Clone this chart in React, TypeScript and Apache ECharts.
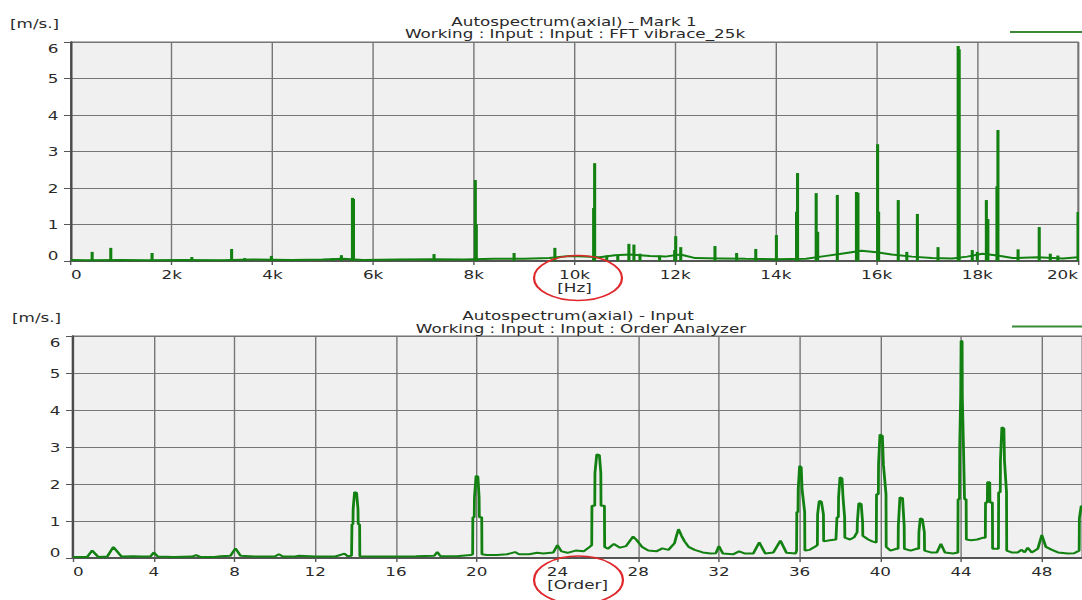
import React, { useEffect, useRef } from "react";
import * as echarts from "echarts";

// Upper panel: autospectrum over frequency (Hz)
const hzFloor: [number, number][] = [
  [0, 0.03], [300, 0.02], [1000, 0.03], [1500, 0.02], [2200, 0.03], [3000, 0.02],
  [3600, 0.04], [4400, 0.03], [5000, 0.04], [5400, 0.06], [5800, 0.03], [6500, 0.04],
  [7200, 0.05], [7800, 0.04], [8400, 0.06], [9000, 0.06], [9500, 0.08], [9900, 0.14],
  [10200, 0.12], [10500, 0.1], [10800, 0.16], [11100, 0.18], [11500, 0.14], [11800, 0.12],
  [12100, 0.18], [12400, 0.08], [12900, 0.07], [13400, 0.06], [14000, 0.05], [14600, 0.06],
  [15000, 0.14], [15300, 0.2], [15700, 0.28], [16000, 0.24], [16300, 0.18], [16700, 0.12],
  [17100, 0.08], [17500, 0.07], [17800, 0.12], [18100, 0.2], [18400, 0.15], [18700, 0.08],
  [19200, 0.1], [19700, 0.07], [20000, 0.1],
];

const hzPeaks: [number, number][] = [
  [420, 0.25], [790, 0.36], [1610, 0.22], [2400, 0.11], [3190, 0.33], [3450, 0.08],
  [3980, 0.14], [5200, 0.08], [5370, 0.16], [5590, 1.73], [5610, 1.7], [7210, 0.19],
  [8030, 2.22], [8050, 1.0], [8800, 0.22], [9610, 0.36], [10380, 1.45], [10400, 2.68],
  [10640, 0.15], [10860, 0.15], [11080, 0.47], [11180, 0.45], [11300, 0.2], [11690, 0.15],
  [11990, 0.3], [12010, 0.68], [12110, 0.38], [12790, 0.41], [13220, 0.22], [13600, 0.33],
  [14010, 0.71], [14410, 1.35], [14430, 2.41], [14800, 1.86], [14830, 0.8], [15220, 1.81],
  [15600, 1.89], [15630, 1.87], [16020, 3.2], [16040, 1.35], [16430, 1.67], [16600, 0.25],
  [16810, 1.29], [17220, 0.38], [17620, 5.89], [17640, 5.8], [17900, 0.3], [18000, 0.25],
  [18180, 1.67], [18210, 1.15], [18390, 2.05], [18410, 3.59], [18810, 0.32], [19230, 0.93],
  [19450, 0.2], [19600, 0.15], [20000, 1.34],
];

// Lower panel: order spectrum
const orderSpectrum: [number, number][] = [
  [0, 0.03], [0.7, 0.03], [0.95, 0.2], [1.25, 0.03], [1.7, 0.04], [2.0, 0.3], [2.4, 0.04],
  [3.0, 0.05], [3.4, 0.04], [3.85, 0.05], [4.0, 0.15], [4.2, 0.04], [5.0, 0.03], [5.9, 0.04],
  [6.1, 0.08], [6.3, 0.03], [7.0, 0.03], [7.3, 0.05], [7.8, 0.06], [8.05, 0.26], [8.3, 0.06],
  [9.0, 0.04], [10.0, 0.04], [10.2, 0.1], [10.4, 0.04], [11.0, 0.04], [11.2, 0.06], [12.0, 0.04],
  [13.0, 0.04], [13.45, 0.12], [13.6, 0.05], [13.8, 0.06], [13.82, 0.91], [13.87, 0.91],
  [13.88, 1.32], [13.95, 1.78], [14.05, 1.76], [14.12, 1.32], [14.13, 0.91], [14.2, 0.91],
  [14.21, 0.05], [15.0, 0.04], [16.0, 0.04], [17.0, 0.05], [17.9, 0.06], [18.05, 0.16],
  [18.2, 0.05], [19.0, 0.05], [19.7, 0.08], [19.8, 0.1], [19.81, 1.1], [19.88, 1.1],
  [19.89, 1.64], [19.97, 2.22], [20.06, 2.2], [20.12, 1.64], [20.13, 1.1], [20.25, 1.1],
  [20.26, 0.1], [20.5, 0.08], [21.0, 0.08], [21.5, 0.1], [21.9, 0.16], [22.1, 0.1], [22.6, 0.1],
  [23.0, 0.14], [23.3, 0.12], [23.8, 0.15], [24.0, 0.35], [24.2, 0.18], [24.5, 0.14],
  [24.9, 0.2], [25.3, 0.18], [25.6, 0.3], [25.7, 0.35], [25.71, 1.41], [25.85, 1.41],
  [25.86, 2.3], [25.95, 2.8], [26.08, 2.78], [26.15, 2.3], [26.16, 1.41], [26.33, 1.41],
  [26.34, 0.3], [26.5, 0.25], [26.8, 0.38], [27.1, 0.28], [27.4, 0.32], [27.75, 0.58],
  [27.9, 0.5], [28.2, 0.3], [28.5, 0.2], [28.9, 0.18], [29.2, 0.26], [29.5, 0.22], [29.8, 0.4],
  [29.9, 0.6], [30.0, 0.78], [30.15, 0.6], [30.3, 0.45], [30.5, 0.3], [30.8, 0.22],
  [31.2, 0.15], [31.6, 0.12], [31.85, 0.13], [32.0, 0.32], [32.2, 0.12], [32.7, 0.1],
  [33.0, 0.18], [33.3, 0.12], [33.7, 0.12], [34.0, 0.42], [34.3, 0.12], [34.7, 0.15],
  [35.05, 0.47], [35.35, 0.14], [35.8, 0.12], [35.85, 0.2], [35.86, 1.24], [35.92, 1.24],
  [35.93, 1.86], [36.0, 2.49], [36.08, 2.45], [36.12, 1.86], [36.25, 1.24], [36.26, 0.2],
  [36.5, 0.22], [36.8, 0.32], [36.88, 0.35], [36.89, 1.18], [36.97, 1.54], [37.08, 1.52],
  [37.18, 1.18], [37.19, 0.45], [37.5, 0.48], [37.8, 0.5], [37.84, 0.5], [37.85, 1.1],
  [37.92, 1.1], [37.93, 1.64], [38.0, 2.18], [38.1, 2.15], [38.15, 1.64], [38.23, 1.1],
  [38.24, 0.55], [38.5, 0.5], [38.7, 0.56], [38.85, 0.7], [38.86, 0.97], [38.93, 1.48],
  [39.05, 1.46], [39.12, 0.97], [39.13, 0.6], [39.4, 0.5], [39.6, 0.45], [39.8, 0.42],
  [39.81, 1.72], [39.9, 1.72], [39.91, 2.53], [39.98, 3.34], [40.1, 3.3], [40.15, 2.53],
  [40.28, 1.72], [40.29, 0.3], [40.5, 0.2], [40.8, 0.25], [40.88, 0.25], [40.89, 0.87],
  [40.97, 1.64], [41.1, 1.62], [41.18, 0.87], [41.19, 0.25], [41.5, 0.2], [41.8, 0.25],
  [41.9, 0.25], [41.91, 0.7], [41.98, 1.07], [42.08, 1.05], [42.18, 0.7], [42.19, 0.2],
  [42.5, 0.15], [42.8, 0.15], [43.0, 0.38], [43.2, 0.15], [43.6, 0.12], [43.84, 0.15],
  [43.85, 1.59], [43.92, 1.59], [43.93, 2.94], [43.97, 2.94], [43.98, 4.38], [44.0, 5.87],
  [44.05, 5.85], [44.06, 4.38], [44.12, 2.94], [44.16, 2.94], [44.17, 1.59], [44.25, 1.59],
  [44.26, 0.5], [44.5, 0.48], [44.8, 0.5], [45.1, 0.55], [45.2, 0.55], [45.21, 1.5],
  [45.3, 1.5], [45.31, 2.05], [45.42, 2.05], [45.43, 1.5], [45.55, 1.5], [45.56, 0.25],
  [45.85, 0.25], [45.86, 1.78], [45.94, 1.78], [45.95, 2.62], [46.02, 3.53], [46.12, 3.5],
  [46.15, 2.62], [46.25, 1.78], [46.26, 0.2], [46.5, 0.15], [46.8, 0.15], [47.0, 0.22],
  [47.15, 0.15], [47.3, 0.28], [47.5, 0.15], [47.8, 0.25], [48.0, 0.62], [48.2, 0.3],
  [48.5, 0.22], [48.8, 0.15], [49.3, 0.12], [49.6, 0.13], [49.85, 0.2], [49.86, 1.07],
  [49.95, 1.4], [50, 1.4],
];

const ampTicks = { min: 0, max: 6, interval: 1 };
const hzRange = { min: 0, max: 20000, interval: 2000 };
const orderRange = { min: 0, max: 50, interval: 4 };

const topTitle = "Autospectrum(axial) - Mark 1";
const topSubtitle = "Working : Input : Input : FFT vibrace_25k";
const bottomTitle = "Autospectrum(axial) - Input";
const bottomSubtitle = "Working : Input : Input : Order Analyzer";
const unitLabel = "[m/s.]";

// The drawing is laid out on a narrower canvas and stretched horizontally.
const S = 1.4;
const W = 1082;
const H = 600;
const IW = W / S;
const hx = (v: number) => v / S;

const FONT = "DejaVu Sans";
const GREEN = "#128112";
const textStyle = { color: "#2a2a2a", fontFamily: FONT, fontSize: 12 };

function xAxisBase(range: { min: number; max: number; interval: number }, grid: number, name: string, fmt: (v: number) => string, hideMax: boolean) {
  return {
    type: "value",
    gridIndex: grid,
    ...range,
    name,
    nameLocation: "middle",
    nameGap: 20,
    nameTextStyle: { ...textStyle },
    axisLine: { show: true, onZero: false, lineStyle: { color: "#555", width: 2 } },
    axisTick: { show: true, length: 4, lineStyle: { color: "#555" } },
    axisLabel: {
      ...textStyle,
      margin: 7,
      formatter: fmt,
      alignMinLabel: "left",
      alignMaxLabel: "right",
      showMaxLabel: !hideMax,
    },
    splitLine: { show: true, lineStyle: { color: "#767676", width: 1 } },
  };
}

function yAxisBase(grid: number) {
  return {
    type: "value",
    gridIndex: grid,
    ...ampTicks,
    axisLine: { show: true, onZero: false, lineStyle: { color: "#4a4a4a", width: 1.6 } },
    axisTick: { show: true, length: 5, lineStyle: { color: "#555" } },
    axisLabel: {
      ...textStyle,
      margin: 9,
      verticalAlignMinLabel: "bottom",
      verticalAlignMaxLabel: "top",
    },
    splitLine: { show: true, lineStyle: { color: "#767676", width: 1 } },
  };
}

export default function App() {
  const ref = useRef<HTMLDivElement>(null);

  useEffect(() => {
    if (!ref.current) return;
    const chart = echarts.init(ref.current, null, { renderer: "svg" });

    const txt = (x: number, y: number, text: string, align: string = "center") => ({
      type: "text",
      x: hx(x),
      y,
      z: 50,
      style: { text, ...textStyle, fill: "#2a2a2a", align, verticalAlign: "middle" },
    });

    chart.setOption({
      animation: false,
      grid: [
        {
          left: hx(71),
          right: IW - hx(1080),
          top: 42,
          height: 219,
          show: true,
          backgroundColor: "#f0f0f0",
          borderColor: "#6e6e6e",
          borderWidth: 1,
        },
        {
          left: hx(73),
          right: 0,
          top: 336,
          height: 222,
          show: true,
          backgroundColor: "#f0f0f0",
          borderColor: "#6e6e6e",
          borderWidth: 1,
        },
      ],
      xAxis: [
        xAxisBase(hzRange, 0, "[Hz]", (v: number) => (v === 0 ? "0" : v / 1000 + "k"), false),
        xAxisBase(orderRange, 1, "[Order]", (v: number) => String(v), true),
      ],
      yAxis: [yAxisBase(0), yAxisBase(1)],
      series: [
        {
          type: "bar",
          xAxisIndex: 0,
          yAxisIndex: 0,
          data: hzPeaks,
          barWidth: 2.2,
          itemStyle: { color: GREEN },
          silent: true,
        },
        {
          type: "line",
          xAxisIndex: 0,
          yAxisIndex: 0,
          data: hzFloor,
          showSymbol: false,
          lineStyle: { color: GREEN, width: 2 },
          silent: true,
        },
        {
          type: "line",
          xAxisIndex: 1,
          yAxisIndex: 1,
          data: orderSpectrum,
          showSymbol: false,
          lineStyle: { color: GREEN, width: 2 },
          silent: true,
        },
      ],
      graphic: [
        txt(10, 23, unitLabel, "left"),
        txt(574, 21, topTitle),
        txt(575, 33, topSubtitle),
        txt(12, 317, unitLabel, "left"),
        txt(578, 315, bottomTitle),
        txt(581, 328, bottomSubtitle),
        {
          type: "line",
          z: 50,
          shape: { x1: hx(1010), y1: 32, x2: hx(1082), y2: 32 },
          style: { stroke: "#3a8a3a", lineWidth: 2 },
        },
        {
          type: "line",
          z: 50,
          shape: { x1: hx(1012), y1: 326.5, x2: hx(1082), y2: 326.5 },
          style: { stroke: "#3a8a3a", lineWidth: 2 },
        },
        {
          type: "ellipse",
          z: 100,
          shape: { cx: hx(578), cy: 278, rx: hx(44), ry: 22.5 },
          style: { fill: "none", stroke: "#e0282c", lineWidth: 1.6 },
        },
        {
          type: "ellipse",
          z: 100,
          shape: { cx: hx(578.5), cy: 580, rx: hx(44.5), ry: 24 },
          style: { fill: "none", stroke: "#e0282c", lineWidth: 1.6 },
        },
      ],
    });

    return () => chart.dispose();
  }, []);

  return (
    <div
      style={{
        position: "fixed",
        left: 0,
        top: 0,
        width: W,
        height: H,
        overflow: "hidden",
        background: "#fff",
      }}
    >
      <div
        ref={ref}
        style={{
          width: IW,
          height: H,
          transform: `scaleX(${S})`,
          transformOrigin: "0 0",
        }}
      />
    </div>
  );
}
